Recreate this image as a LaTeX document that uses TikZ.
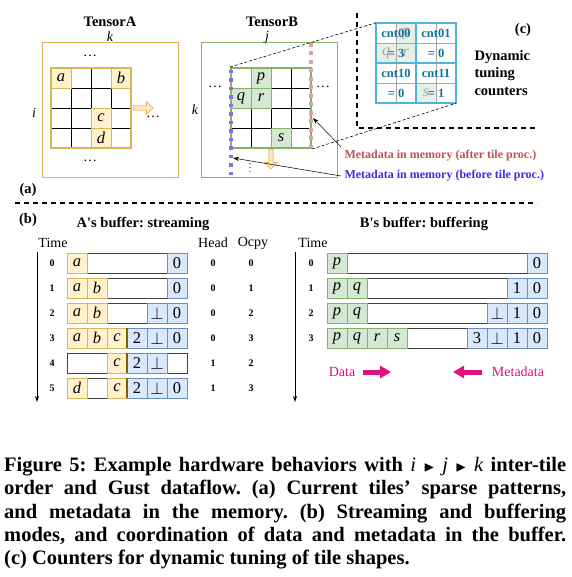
\documentclass[tikz,border=0pt]{standalone}
\usepackage{amssymb}
\usepackage{fontspec}
\setmainfont{Liberation Serif}
\usetikzlibrary{positioning, arrows.meta, shapes.arrows}

\definecolor{yelF}{HTML}{FFF2CC}
\definecolor{yelD}{HTML}{D6B656}
\definecolor{yelDD}{HTML}{7F6000}
\definecolor{grnF}{HTML}{D5E8D4}
\definecolor{grnD}{HTML}{82B366}
\definecolor{bluF}{HTML}{DAE8FC}
\definecolor{bluD}{HTML}{6C8EBF}
\definecolor{orgF}{HTML}{FFE6CC}
\definecolor{orgD}{HTML}{D79B00}
\definecolor{metaR}{HTML}{B85450}
\definecolor{metaP}{HTML}{3F2BDB}
\definecolor{purD}{HTML}{8A6FDF}
\definecolor{pnkD}{HTML}{DBA5A5}
\definecolor{cntD}{HTML}{4FB3DC}
\definecolor{cntT}{HTML}{10739E}
\definecolor{magD}{HTML}{E0107C}

\begin{document}
\frenchspacing
\begin{tikzpicture}[x=1pt, y=-1pt, >={Stealth[length=6pt, width=4pt]},
	lbl/.style={font=\fontsize{14.5}{17}\selectfont\bfseries},
	idx/.style={font=\fontsize{14}{16}\selectfont\itshape},
	plain/.style={font=\fontsize{14}{16}\selectfont},
	rowno/.style={font=\fontsize{10}{12}\selectfont\bfseries},
	cellA/.style={draw=yelD, fill=yelF, minimum size=20pt, inner sep=0pt, font=\fontsize{16.5}{18}\selectfont\itshape},
	cellB/.style={cellA, draw=grnD, fill=grnF},
	cellM/.style={cellA, draw=bluD, fill=bluF, font=\fontsize{16.5}{18}\selectfont},
	tileA/.style={draw=yelD, line width=2pt, minimum size=80pt, inner sep=0pt},
	tileB/.style={tileA, draw=grnD},
	hollow/.style={single arrow, draw=orgD, fill=orgF, minimum height=20pt, minimum width=13pt, single arrow head extend=2.5pt, inner sep=1pt},
	fat/.style={magD, line width=5pt, -{Triangle[length=11pt, width=12pt]}},
	cnttxt/.style={text=cntT, font=\fontsize{12.5}{14}\selectfont\bfseries},
	sepline/.style={line width=1.5pt, dash pattern=on 5pt off 4pt}]
	\useasboundingbox (0,0) rectangle (571,577);

	% (a) tensor A
	\draw[yelD, line width=1pt] (42,43) rectangle (178,178);
	\node[lbl] (tA) at (110,22) {TensorA};
	\node[idx] (kA) at (110,37) {k};
	\node[idx] (iA) at (34,113) {i};
	\node[plain] (dA1) at (90,56) {\dots};
	\node[plain] (dA2) at (153,117) {\dots};
	\node[plain] (dA3) at (90,161) {\dots};
	\foreach \k in {1,2,3} {
		\draw[line width=0.6pt] (51+20*\k,68) -- (51+20*\k,148);
		\draw[line width=0.6pt] (51,68+20*\k) -- (131,68+20*\k);
	}
	\foreach \c/\x/\y in {a/0/0, b/3/0, c/2/2, d/2/3}
		\node[cellA] (A\c) at (61+20*\x,78+20*\y) {\c};
	\node[tileA] (tileA) at (91,108) {};
	\node[hollow] (arrA) at (142,108) {};

	% (a) tensor B
	\draw[grnD, line width=1pt] (201,43) rectangle (337,178);
	\node[lbl] (tB) at (272,22) {TensorB};
	\node[idx] (jB) at (267,37) {j};
	\node[idx] (kB) at (195,110) {k};
	\node[plain] (dB1) at (215,87) {\dots};
	\node[plain] (dB2) at (323,87) {\dots};
	\node[inner sep=0pt, font=\fontsize{10}{12}\selectfont] (dB3) at (250,165) {$\vdots$};
	\foreach \k in {1,2,3} {
		\draw[line width=0.6pt] (231+20*\k,68) -- (231+20*\k,148);
		\draw[line width=0.6pt] (231,68+20*\k) -- (311,68+20*\k);
	}
	\foreach \c/\x/\y in {p/1/0, q/0/1, r/1/1, s/2/3}
		\node[cellB] (B\c) at (241+20*\x,78+20*\y) {\c};
	\node[tileB] (tileB) at (271,108) {};
	\node[hollow, shape border rotate=270] (arrB) at (271,158) {};
	\draw[purD, line width=3.5pt, dash pattern=on 3.5pt off 5pt] (231,70) -- (231,178);
	\draw[pnkD, line width=3.5pt, dash pattern=on 4pt off 4.5pt] (311,43) -- (311,148);

	% metadata labels
	\node[anchor=west, text=metaR, font=\fontsize{12}{14}\selectfont\bfseries] (mR) at (341,156) {Metadata in memory (after tile proc.)};
	\node[anchor=west, text=metaP, font=\fontsize{12}{14}\selectfont\bfseries] (mP) at (341,176) {Metadata in memory (before tile proc.)};
	\coordinate (pR) at (313,118);
	\coordinate (pP) at (233,158);
	\draw[->, line width=0.5pt] (mR.north west) -- (pR);
	\draw[->, line width=0.5pt] (mP.west) -- (pP);

	% (c) counters
	\node[minimum size=80pt, inner sep=0pt] (cnt) at (416,63) {};
	\foreach \c/\x/\y in {p/1/0, q/0/1, r/1/1, s/2/3} {
		\fill[grnF!60] (376+20*\x,23+20*\y) rectangle +(20,20);
		\node[text=black!35, font=\fontsize{16}{18}\selectfont\itshape] (C\c) at (386+20*\x,33+20*\y) {\c};
	}
	\foreach \k in {1,3} {
		\draw[black!35, line width=0.6pt] (376+20*\k,23) -- (376+20*\k,103);
		\draw[black!35, line width=0.6pt] (376,23+20*\k) -- (456,23+20*\k);
	}
	\foreach \n/\v/\x/\y in {00/3/0/0, 01/0/1/0, 10/0/0/1, 11/1/1/1} {
		\node[cnttxt] (cn\n) at (396+40*\x,33+40*\y) {cnt\n};
		\node[cnttxt] (cv\n) at (396+40*\x,53+40*\y) {= \v};
	}
	\draw[cntD, line width=2pt] (cnt.north west) rectangle (cnt.south east);
	\draw[cntD, line width=2pt] (cnt.north) -- (cnt.south);
	\draw[cntD, line width=2pt] (cnt.west) -- (cnt.east);
	\draw[dashed, line width=0.6pt, dash pattern=on 3pt off 2pt] (tileB.north west) -- (cnt.north west);
	\draw[dashed, line width=0.6pt, dash pattern=on 3pt off 2pt] (tileB.south east) -- (cnt.south east);
	\node[lbl] (lc) at (523,30) {(c)};
	\node[anchor=west, align=left, font=\fontsize{14.5}{17.5}\selectfont\bfseries] (dyn) at (471,73) {Dynamic\\tuning\\counters};

	% separators
	\draw[sepline] (357,13) -- (357,128) -- (537,128);
	\draw[sepline] (15,203) -- (537,203);
	\node[lbl] (la) at (28,190) {(a)};
	\node[lbl] (lb) at (28,220) {(b)};

	% (b) A's buffer
	\node[lbl] (titA) at (143,224) {A\textquotesingle s buffer: streaming};
	\node[plain] (timeA) at (53,243) {Time};
	\node[plain] (head) at (213,243) {Head};
	\node[plain] (ocpy) at (253,243) {Ocpy};
	\coordinate (tA0) at (37,252);
	\coordinate (tA1) at (37,402);
	\draw[->, line width=0.8pt] (tA0) -- (tA1);
	\foreach \r/\dat/\met/\hd/\oc in {0/{0/a}/{5/0}/0/0, 1/{0/a,1/b}/{5/0}/0/1, 2/{0/a,1/b}/{4/$\bot$,5/0}/0/2,
		3/{0/a,1/b,2/c}/{3/2,4/$\bot$,5/0}/0/3, 4/{2/c}/{3/2,4/$\bot$}/1/2, 5/{0/d,2/c}/{3/2,4/$\bot$,5/0}/1/3} {
		\pgfmathsetmacro\yy{263+25*\r}
		\draw[black!75, line width=0.8pt] (67,\yy-10) rectangle (187,\yy+10);
		\foreach \c/\t in \dat
			\node[cellA] (bA\r d\c) at (77+20*\c,\yy) {\t};
		\foreach \c/\t in \met
			\node[cellM] (bA\r m\c) at (77+20*\c,\yy) {\t};
		\ifnum\r>2 \draw[yelDD, line width=2pt] (127,\yy-10) -- (127,\yy+10); \fi
		\node[rowno] (nA\r) at (52,\yy) {\r};
		\node[rowno] (hA\r) at (213,\yy) {\hd};
		\node[rowno] (oA\r) at (251,\yy) {\oc};
	}

	% (b) B's buffer
	\node[lbl] (titB) at (424,224) {B\textquotesingle s buffer: buffering};
	\node[plain] (timeB) at (313,243) {Time};
	\coordinate (tB0) at (295,252);
	\coordinate (tB1) at (295,402);
	\draw[->, line width=0.8pt] (tB0) -- (tB1);
	\foreach \r/\dat/\met in {0/{0/p}/{10/0}, 1/{0/p,1/q}/{9/1,10/0}, 2/{0/p,1/q}/{8/$\bot$,9/1,10/0},
		3/{0/p,1/q,2/r,3/s}/{7/3,8/$\bot$,9/1,10/0}} {
		\pgfmathsetmacro\yy{263+25*\r}
		\draw[black!75, line width=0.8pt] (327,\yy-10) rectangle (547,\yy+10);
		\foreach \c/\t in \dat
			\node[cellB] (bB\r d\c) at (337+20*\c,\yy) {\t};
		\foreach \c/\t in \met
			\node[cellM] (bB\r m\c) at (337+20*\c,\yy) {\t};
		\node[rowno] (nB\r) at (311,\yy) {\r};
	}
	\node[plain, text=magD] (data) at (342,372) {Data};
	\coordinate (dA0) at (363,372);
	\coordinate (dA1) at (391,372);
	\draw[fat] (dA0) -- (dA1);
	\node[plain, text=magD] (meta) at (518,372) {Metadata};
	\coordinate (mA0) at (482,372);
	\coordinate (mA1) at (453,372);
	\draw[fat] (mA0) -- (mA1);

	% caption
	\node[anchor=north west, inner sep=0pt, text width=562pt, align=justify, font=\fontsize{20.5}{23.3}\selectfont\bfseries] (cap) at (4,457)
		{Figure 5: Example hardware behaviors with {\mdseries\itshape i} $\mathbin{\scriptstyle\blacktriangleright}$ {\mdseries\itshape j} $\mathbin{\scriptstyle\blacktriangleright}$ {\mdseries\itshape k} inter-tile\linebreak
		order and Gust dataflow. (a) Current tiles’ sparse patterns,\linebreak
		and metadata in the memory. (b) Streaming and buffering\linebreak
		modes, and coordination of data and metadata in the buffer.\linebreak
		(c) Counters for dynamic tuning of tile shapes.};
\end{tikzpicture}
\end{document}
